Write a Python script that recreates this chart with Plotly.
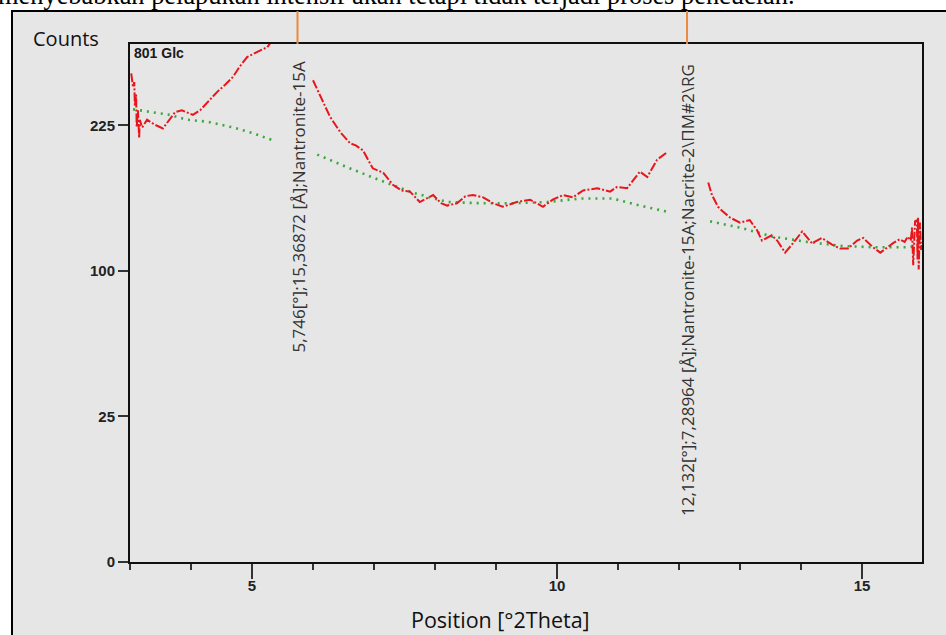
import numpy as np
import plotly.graph_objects as go

# ---------------- data ----------------
theta_red = [3.02, 3.05, 3.07, 3.08, 3.10, 3.11, 3.13, 3.15, 3.16, 3.20, 3.28, 3.40, 3.54, 3.65,
             3.74, 3.85, 3.93, 4.03, 4.15, 4.26, 4.43, 4.56, 4.69, 4.80, 4.92, 5.08, 5.25, 5.40,
             None,
             6.00, 6.28, 6.45, 6.61, 6.70, 6.82, 6.98, 7.15, 7.31, 7.45, 7.59, 7.75, 7.97, 8.10,
             8.20, 8.36, 8.50, 8.62, 8.79, 8.95, 9.11, 9.34, 9.56, 9.77, 9.93, 10.10, 10.26,
             10.43, 10.66, 10.87, 10.98, 11.15, 11.36, 11.48, 11.64, 11.80,
             None,
             12.48, 12.54, 12.64, 12.72, 12.84, 13.00, 13.16, 13.28, 13.36, 13.52, 13.61, 13.74,
             13.87, 14.02, 14.18, 14.34, 14.51, 14.64, 14.77, 14.92, 15.02, 15.18, 15.30, 15.41,
             15.51, 15.62, 15.70, 15.75, 15.80, 15.82, 15.84, 15.87, 15.90, 15.91, 15.92, 15.93,
             15.95, 15.97, 15.98]
counts_red = [282, 266, 272, 245, 258, 223, 241, 212, 231, 223, 231, 226, 222, 232,
              239, 241, 239, 236, 241, 249, 261, 269, 278, 290, 301, 307, 313, 328,
              None,
              274, 234, 218, 207, 205, 200, 183, 179, 168, 163, 162, 153, 159, 152,
              150, 152, 158, 159, 157, 152, 149, 153, 155, 149, 155, 159, 157,
              163, 165, 162, 166, 165, 180, 175, 191, 198,
              None,
              170, 159, 149, 145, 140, 136, 138, 130, 122, 126, 122, 113,
              120, 129, 120, 124, 119, 116, 116, 122, 124, 117, 113, 117,
              120, 123, 121, 125, 122, 132, 104, 137, 138, 108, 140, 101,
              136, 115, 120]

theta_green = [3.05, 3.38, 3.66, 3.93, 4.26, 4.48, 4.75, 5.02, 5.34,
               None,
               6.07, 6.56, 7.10, 7.64, 8.20, 8.74, 9.28, 9.84, 10.38, 10.92, 11.36, 11.80,
               None,
               12.51, 13.00, 13.54, 14.10, 14.64, 15.18, 15.74, 15.95]
counts_green = [242, 239, 236, 231, 229, 226, 222, 217, 210,
                None,
                196, 184, 172, 161, 153, 152, 152, 153, 156, 156, 150, 145,
                None,
                137, 132, 125, 121, 118, 117, 117, 118]

y_ticks = [0, 25, 100, 225]
x_ticks = [5, 10, 15]

peak_pos = [5.746, 12.132]
peak_labels = ["5,746[°];15,36872 [Å];Nantronite-15A",
               "12,132[°];7,28964 [Å];Nantronite-15A;Nacrite-2\\ПМ#2\\RG"]

sample_name = "801 Glc"
top_text = "menyebabkan pelapukan intensif akan tetapi tidak terjadi proses pencucian."


# ---------------- helpers ----------------
def sqrt_or_none(vals):
    return [None if v is None else float(np.sqrt(v)) for v in vals]


W, H = 946, 635
L, R, T, B = 130, 24, 44, 73
PW, PH = W - L - R, H - T - B


def px_x(px):
    return (px - L) / PW


def px_y(py):
    return (H - B - py) / PH


GREY = "#e6e6e6"

fig = go.Figure()
fig.add_trace(go.Scatter(x=theta_green, y=sqrt_or_none(counts_green), mode="lines",
                         line=dict(color="#3aa83a", width=2.6, dash="2px,5px"),
                         connectgaps=False, hoverinfo="skip", showlegend=False))
fig.add_trace(go.Scatter(x=theta_red, y=sqrt_or_none(counts_red), mode="lines",
                         line=dict(color="#e8161b", width=2, dash="9px,2px,2px,2px"),
                         connectgaps=False, hoverinfo="skip", showlegend=False))

tick_font = dict(family="Liberation Sans Narrow, Liberation Sans, Arial", size=15,
                 color="#222222", weight="bold")

fig.update_layout(
    width=W, height=H,
    margin=dict(l=L, r=R, t=T, b=B, pad=0),
    paper_bgcolor="white",
    plot_bgcolor=GREY,
    showlegend=False,
    xaxis=dict(range=[3, 15.984], tickvals=x_ticks, ticktext=[str(v) for v in x_ticks],
               ticks="outside", ticklen=15, tickwidth=2, tickcolor="#333333",
               ticklabelstandoff=-6,
               minor=dict(dtick=1, tick0=0, ticks="outside", ticklen=6, tickwidth=2,
                          tickcolor="#333333"),
               showline=True, linecolor="#111111", linewidth=2, mirror=True,
               showgrid=False, zeroline=False, tickfont=tick_font),
    yaxis=dict(range=[0, 17.8], tickvals=[float(np.sqrt(v)) for v in y_ticks],
               ticktext=[str(v) for v in y_ticks],
               ticks="outside", ticklen=10, tickwidth=2, tickcolor="#333333",
               showline=True, linecolor="#111111", linewidth=2, mirror=True,
               showgrid=False, zeroline=False, tickfont=tick_font),
)

shapes = [
    dict(type="rect", xref="paper", yref="paper",
         x0=px_x(12), x1=px_x(980), y0=px_y(680), y1=px_y(11),
         fillcolor=GREY, line=dict(color="black", width=2), layer="below"),
]
for p in peak_pos:
    shapes.append(dict(type="line", xref="x", yref="paper", x0=p, x1=p,
                       y0=1.0, y1=px_y(11), line=dict(color="#ec8a3c", width=2)))
fig.update_layout(shapes=shapes)

annotations = [
    dict(text=top_text, xref="paper", yref="paper", x=px_x(797), y=px_y(-5),
         xanchor="right", yanchor="middle", showarrow=False,
         font=dict(family="Liberation Serif, Times New Roman", size=26.4, color="black")),
    dict(text="<b>" + sample_name + "</b>", xref="paper", yref="paper", x=px_x(132), y=px_y(43),
         xanchor="left", yanchor="top", showarrow=False,
         font=dict(family="Liberation Sans Narrow, Liberation Sans, Arial", size=14, color="#1a1a1a")),
    dict(text="Counts", xref="paper", yref="paper", x=px_x(31), y=px_y(38),
         xanchor="left", yanchor="middle", showarrow=False,
         font=dict(family="Open Sans", size=20, color="#111111")),
    dict(text="Position [°2Theta]", xref="paper", yref="paper", x=px_x(500), y=px_y(619),
         xanchor="center", yanchor="middle", showarrow=False,
         font=dict(family="Open Sans", size=21.5, color="#111111")),
]
label_centers = [207, 290]
for p, lab, cy in zip(peak_pos, peak_labels, label_centers):
    annotations.append(dict(text=lab, xref="x", yref="paper", x=p, y=px_y(cy),
                            xanchor="center", yanchor="middle", textangle=-90,
                            showarrow=False,
                            font=dict(family="Open Sans", size=17, color="#333333")))
fig.update_layout(annotations=annotations)

fig.write_html("out.html", config={"displayModeBar": False},
               post_script="document.body.style.margin='0';document.body.style.overflow='hidden';")
